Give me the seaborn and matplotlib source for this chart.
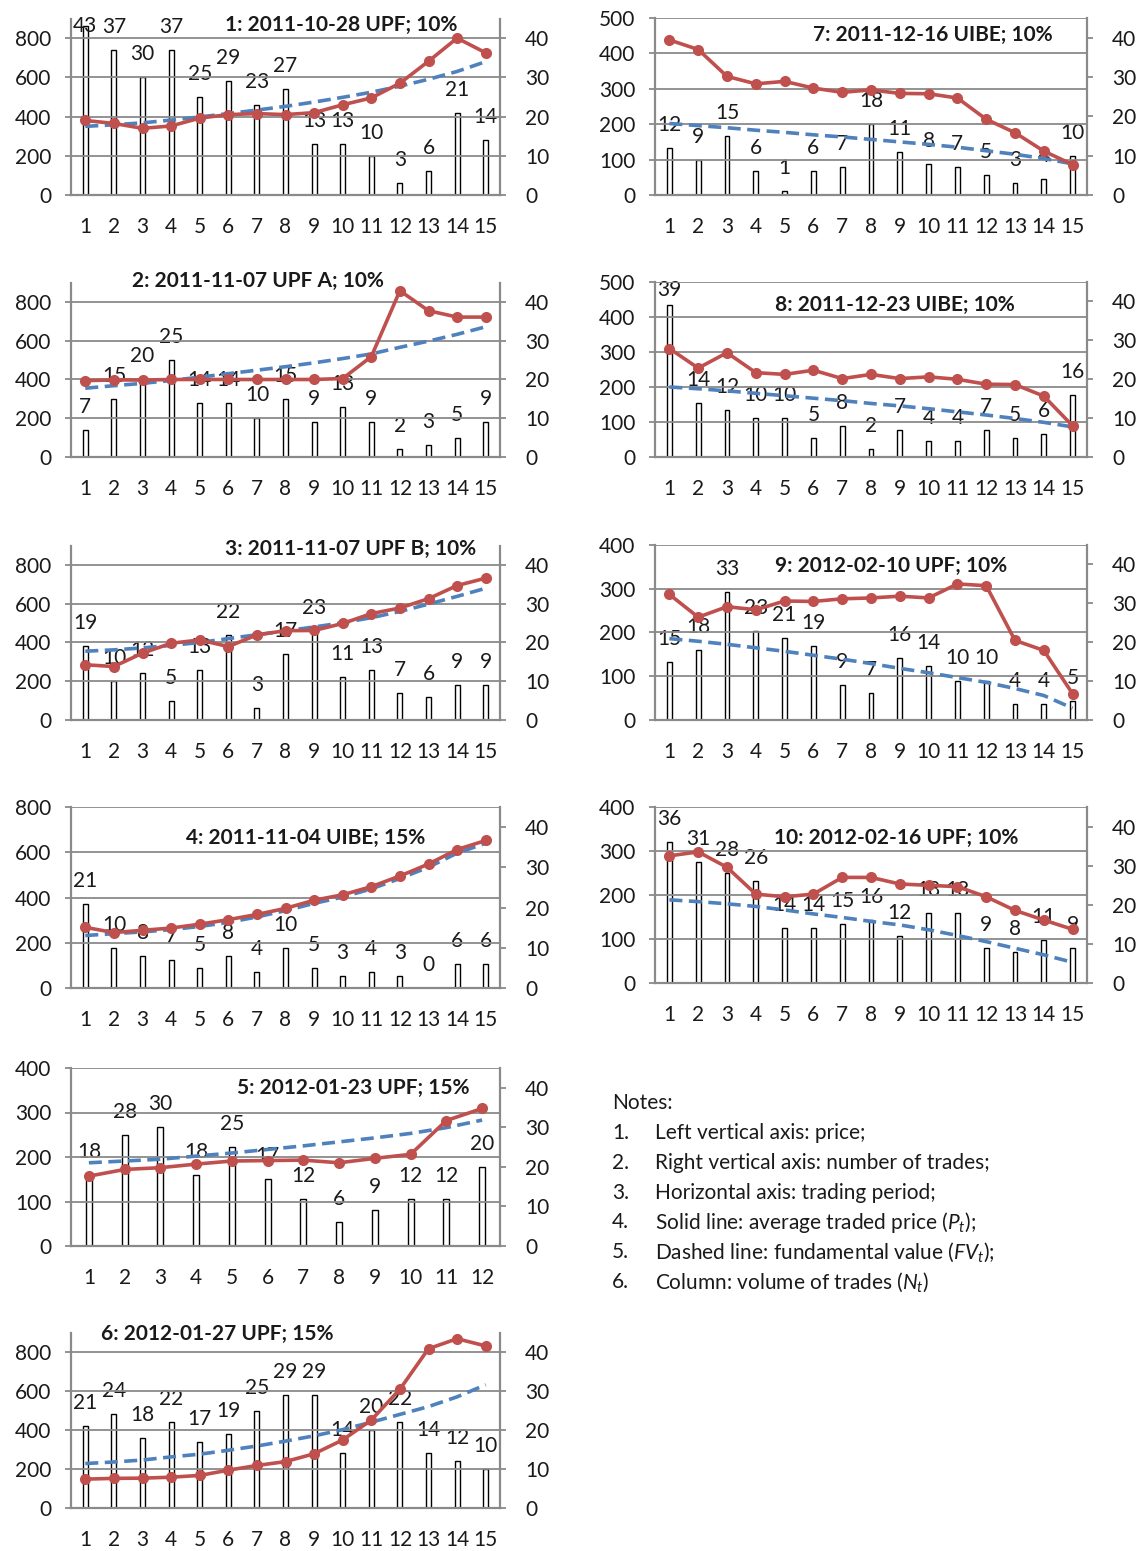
import numpy as np
import pandas as pd
import matplotlib
matplotlib.use('Agg')
import matplotlib.pyplot as plt
import seaborn as sns

# ── Data: volume of trades (N), average traded price (P), fundamental value (FV)
N1 = [43, 37, 30, 37, 25, 29, 23, 27, 13, 13, 10, 3, 6, 21, 14]
P1 = [380, 365, 340, 352, 392, 410, 415, 410, 420, 460, 495, 570, 682, 800, 725]
FV1 = [350, 358, 368, 382, 398, 415, 433, 452, 474, 498, 524, 555, 590, 630, 680]

N2 = [7, 15, 20, 25, 14, 14, 10, 15, 9, 13, 9, 2, 3, 5, 9]
P2 = [394, 398, 397, 400, 400, 400, 400, 400, 400, 405, 518, 858, 755, 722, 722]
FV2 = [355, 368, 380, 395, 412, 430, 448, 466, 486, 508, 532, 566, 598, 633, 672]

N3 = [19, 10, 12, 5, 13, 22, 3, 17, 23, 11, 13, 7, 6, 9, 9]
P3 = [285, 276, 345, 396, 413, 379, 439, 461, 462, 498, 549, 578, 626, 694, 732]
FV3 = [355, 362, 372, 385, 400, 420, 440, 460, 480, 502, 528, 560, 598, 638, 680]

N4 = [21, 10, 8, 7, 5, 8, 4, 10, 5, 3, 4, 3, 0, 6, 6]
P4 = [268, 245, 255, 265, 282, 302, 325, 352, 388, 412, 448, 495, 548, 612, 652]
FV4 = [232, 240, 248, 258, 272, 290, 314, 342, 374, 402, 438, 484, 534, 596, 640]

N5 = [18, 28, 30, 18, 25, 17, 12, 6, 9, 12, 12, 20]
P5 = [157, 172, 176, 184, 191, 192, 193, 187, 197, 206, 282, 309]
FV5 = [187, 191, 195, 202, 209, 217, 225, 234, 243, 253, 266, 283]

N6 = [21, 24, 18, 22, 17, 19, 25, 29, 29, 14, 20, 22, 14, 12, 10]
P6 = [148, 152, 153, 158, 167, 194, 218, 238, 278, 349, 451, 609, 817, 868, 831]
FV6 = [228, 236, 246, 262, 276, 296, 318, 343, 370, 402, 440, 480, 520, 570, 632]

N7 = [12, 9, 15, 6, 1, 6, 7, 18, 11, 8, 7, 5, 3, 4, 10]
P7 = [438, 411, 335, 314, 321, 302, 290, 297, 287, 286, 274, 214, 176, 124, 86]
FV7 = [202, 196, 190, 183, 177, 170, 164, 157, 150, 143, 135, 125, 115, 103, 88]

N8 = [39, 14, 12, 10, 10, 5, 8, 2, 7, 4, 4, 7, 5, 6, 16]
P8 = [310, 254, 298, 241, 236, 248, 224, 236, 224, 229, 222, 208, 207, 174, 89]
FV8 = [200, 195, 189, 182, 175, 168, 161, 153, 146, 138, 129, 120, 110, 99, 86]

N9 = [15, 18, 33, 23, 21, 19, 9, 7, 16, 14, 10, 10, 4, 4, 5]
P9 = [287, 235, 259, 252, 272, 271, 277, 279, 283, 279, 311, 307, 182, 159, 60]
FV9 = [186, 180, 173, 165, 157, 148, 139, 129, 118, 108, 97, 86, 72, 56, 27]

N10 = [36, 31, 28, 26, 14, 14, 15, 16, 12, 18, 18, 9, 8, 11, 9]
P10 = [289, 298, 263, 202, 196, 202, 240, 240, 225, 222, 219, 196, 165, 143, 122]
FV10 = [189, 185, 180, 174, 166, 157, 149, 140, 132, 121, 108, 94, 79, 64, 47]

TITLES = ['1: 2011-10-28 UPF; 10%', '2: 2011-11-07 UPF A; 10%',
          '3: 2011-11-07 UPF B; 10%', '4: 2011-11-04 UIBE; 15%',
          '5: 2012-01-23 UPF; 15%', '6: 2012-01-27 UPF; 15%',
          '7: 2011-12-16 UIBE; 10%', '8: 2011-12-23 UIBE; 10%',
          '9: 2012-02-10 UPF; 10%', '10: 2012-02-16 UPF; 10%']

NOTES = ['Left vertical axis: price;',
         'Right vertical axis: number of trades;',
         'Horizontal axis: trading period;',
         r'Solid line: average traded price ($P_t$);',
         r'Dashed line: fundamental value ($FV_t$);',
         r'Column: volume of trades ($N_t$)']

# ── Layout (pixels) ──────────────────────────────────────────────────────────
W, H = 1138, 1551
GREY = '#8a8a8a'
RED = '#C0504D'
BLUE = '#4F81BD'
INK = '#1a1a1a'
FS = 15

# (x0, top, x1, bottom) of plot area, left-axis max, left tick max, tick step,
# title centre
LAYOUT = [
    ((71, 18.5, 500, 195), 900, 800, 200, (341, 25)),
    ((71, 282.6, 500, 457), 900, 800, 200, (258, 281)),
    ((71, 545.6, 500, 720), 900, 800, 200, (351, 549)),
    ((71, 807, 500, 988), 800, 800, 200, (306, 838)),
    ((71, 1068, 500, 1246), 400, 400, 100, (353, 1088)),
    ((71, 1332.5, 500, 1508), 900, 800, 200, (217, 1334)),
    ((655, 18, 1087, 195), 500, 500, 100, (933, 35)),
    ((655, 282, 1087, 457), 500, 500, 100, (895, 305)),
    ((655, 545, 1087, 720), 400, 400, 100, (891, 566)),
    ((655, 807, 1087, 983), 400, 400, 100, (896, 838)),
]

SERIES = [(N1, P1, FV1), (N2, P2, FV2), (N3, P3, FV3), (N4, P4, FV4),
          (N5, P5, FV5), (N6, P6, FV6), (N7, P7, FV7), (N8, P8, FV8),
          (N9, P9, FV9), (N10, P10, FV10)]

sns.set_style('white')
plt.rcParams['font.family'] = ['Lato', 'DejaVu Sans']
plt.rcParams['mathtext.fontset'] = 'custom'
plt.rcParams['mathtext.rm'] = 'Lato'
plt.rcParams['mathtext.it'] = 'Lato:italic'


def draw_panel(fig, title, series, layout):
    (x0, top, x1, bot), ymax, ytop, ystep, (tx, ty) = layout
    n, price, fv = series
    k = len(n)
    df = pd.DataFrame({'t': np.arange(1, k + 1), 'pos': np.arange(k),
                       'n': n, 'p': price, 'fv': fv})

    ax = fig.add_axes([x0 / W, 1 - bot / H, (x1 - x0) / W, (bot - top) / H])
    ax2 = ax.twinx()

    # columns: number of trades on the right axis
    sns.barplot(data=df, x='t', y='n', ax=ax2, width=0.17, color='white',
                saturation=1, edgecolor='black', linewidth=1.0)
    ax2.set_ylim(0, 45)
    ax2.set_yticks(range(0, 41, 10))
    ppu = (bot - top) / 45.0
    for i, v in enumerate(n):
        yl = min(v + 23 / ppu, 45 - 8 / ppu)
        ax2.text(i, yl, str(v), ha='center', va='center', fontsize=FS,
                 color=INK)

    # lines: fundamental value (dashed) and average price (solid) on the left
    sns.lineplot(data=df, x='pos', y='fv', ax=ax, color=BLUE, lw=2.6,
                 linestyle=(0, (3.6, 1.8)))
    sns.lineplot(data=df, x='pos', y='p', ax=ax, color=RED, lw=2.6,
                 marker='o', markersize=8, markeredgewidth=0)
    ax.set_ylim(0, ymax)
    ax.set_yticks(range(0, ytop + 1, ystep))
    ax.set_xlim(-0.5, k - 0.5)
    ax.set_xticks(range(k))
    ax.set_xticklabels([str(t) for t in df['t']])

    ax.set_zorder(ax2.get_zorder() + 1)
    ax.patch.set_visible(False)
    ax.yaxis.grid(True, color=GREY, lw=1.3)
    ax.xaxis.grid(False)
    ax.set_axisbelow(True)

    for a in (ax, ax2):
        a.set_xlabel('')
        a.set_ylabel('')
        for s in a.spines.values():
            s.set_visible(False)
    for side in ('left', 'right', 'bottom'):
        ax.spines[side].set_visible(True)
        ax.spines[side].set_color(GREY)
        ax.spines[side].set_linewidth(1.6)

    ax.tick_params(axis='y', left=True, length=4, width=1.3, color=GREY,
                   pad=10, labelsize=FS, labelcolor=INK)
    ax.tick_params(axis='x', length=0, pad=16, labelsize=FS, labelcolor=INK)
    ax2.tick_params(axis='y', right=True, length=4, width=1.3, color=GREY,
                    pad=14, labelsize=FS, labelcolor=INK)

    fig.text(tx / W, 1 - ty / H, title, ha='center', va='center',
             fontsize=FS, fontweight='bold', color=INK)


fig = plt.figure(figsize=(W / 100, H / 100), dpi=100)
for title, series, layout in zip(TITLES, SERIES, LAYOUT):
    draw_panel(fig, title, series, layout)

# notes block
fig.text(612 / W, 1 - 1103 / H, 'Notes:', ha='left', va='center',
         fontsize=FS, color=INK)
for i, note in enumerate(NOTES):
    y = 1 - (1133 + i * 29.8) / H
    fig.text(612 / W, y, f'{i + 1}.', ha='left', va='center', fontsize=FS,
             color=INK)
    fig.text(655 / W, y, note, ha='left', va='center', fontsize=FS,
             color=INK)

fig.savefig('out.png', dpi=100)
